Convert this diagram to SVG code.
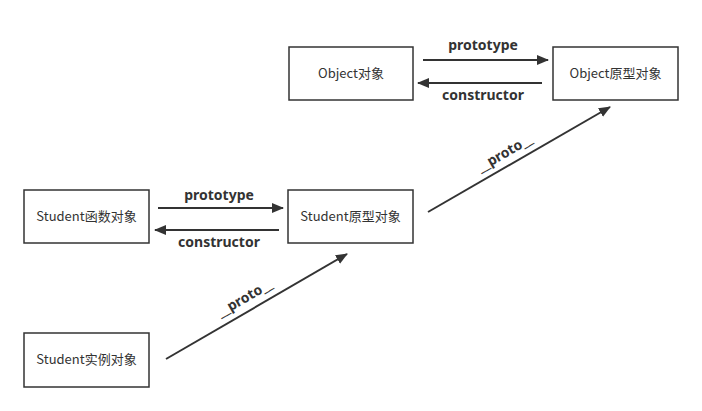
<svg xmlns="http://www.w3.org/2000/svg" width="702" height="411" viewBox="0 0 702 411">
<style>
.box{fill:#fff;stroke:#333;stroke-width:1.5}
.nt{font-family:"Noto Sans CJK SC","Noto Sans",sans-serif;font-size:13px;fill:#333;text-anchor:middle}
.lb{font-family:"Noto Sans","Liberation Sans",sans-serif;font-size:14px;font-weight:bold;fill:#333;text-anchor:middle}
.ln{stroke:#333;stroke-width:2;fill:none;marker-end:url(#ah)}
</style>
<defs>
<marker id="ah" viewBox="0 0 12 10" refX="11" refY="5" markerWidth="12" markerHeight="10" markerUnits="userSpaceOnUse" orient="auto">
<path d="M0,0 L12,5 L0,10 Z" fill="#333"/>
</marker>
</defs>
<rect width="702" height="411" fill="#fff"/>
<g id="connectors">
<line class="ln" x1="423" y1="60" x2="548" y2="60"/>
<line class="ln" x1="542" y1="83" x2="418" y2="83"/>
<line class="ln" x1="428" y1="212" x2="610" y2="107"/>
<line class="ln" x1="158" y1="208" x2="283" y2="208"/>
<line class="ln" x1="279" y1="230" x2="155" y2="230"/>
<line class="ln" x1="166" y1="359" x2="347" y2="254"/>
<text class="lb" x="483" y="50">prototype</text>
<text class="lb" x="483" y="100">constructor</text>
<text class="lb" x="219" y="200">prototype</text>
<text class="lb" x="219" y="247">constructor</text>
<text class="lb" transform="translate(507,157) rotate(-30)">__proto__</text>
<text class="lb" transform="translate(247,302) rotate(-30)">__proto__</text>
</g>
<g id="n1"><rect class="box" x="289" y="47" width="124" height="53"/><text class="nt" x="351" y="78">Object对象</text></g>
<g id="n2"><rect class="box" x="553" y="47" width="125" height="53"/><text class="nt" x="615.5" y="78">Object原型对象</text></g>
<g id="n3"><rect class="box" x="24" y="190" width="125" height="53"/><text class="nt" x="86.5" y="221">Student函数对象</text></g>
<g id="n4"><rect class="box" x="288" y="190" width="125" height="53"/><text class="nt" x="350.5" y="221">Student原型对象</text></g>
<g id="n5"><rect class="box" x="24" y="333" width="125" height="54"/><text class="nt" x="86.5" y="364">Student实例对象</text></g>
</svg>
